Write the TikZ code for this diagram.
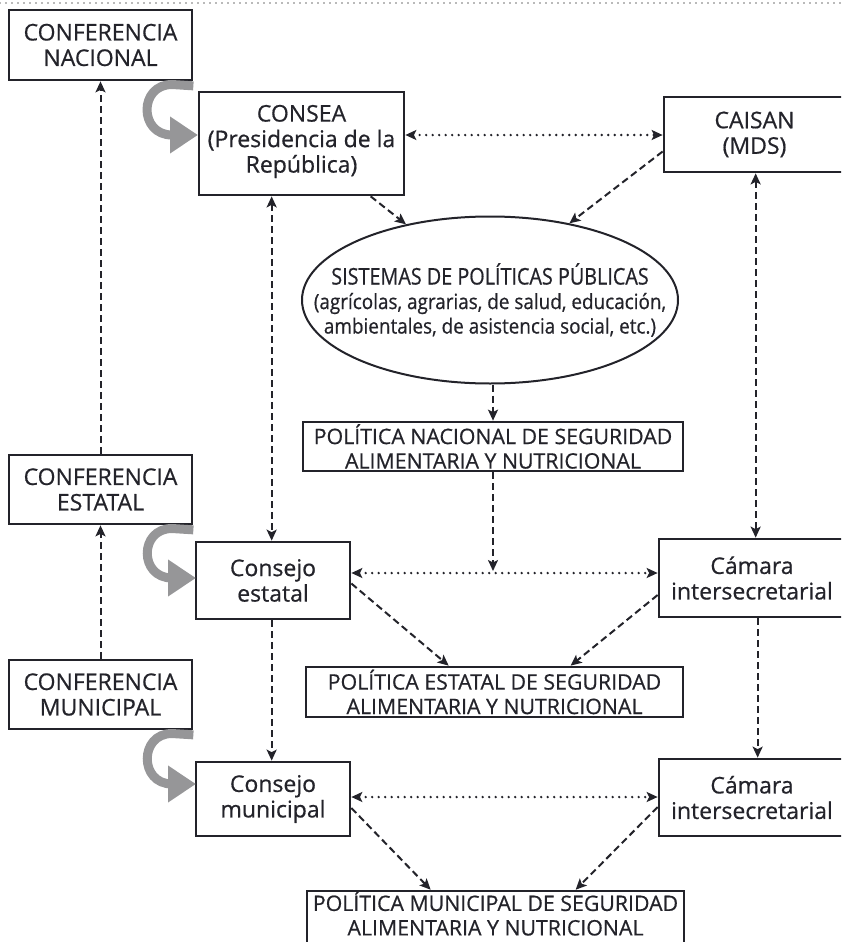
\documentclass[tikz,border=0pt]{standalone}
\usepackage{fontspec}
\setmainfont{Open Sans}
\usetikzlibrary{arrows.meta,shapes.geometric,calc}
\definecolor{ink}{RGB}{35,35,42}
\definecolor{greyarrow}{RGB}{150,150,152}
\newcommand{\boxfont}{\fontsize{23}{25.5}\selectfont\addfontfeatures{FakeBold=0.6}}
\newcommand{\polfont}{\fontsize{21.3}{24.5}\selectfont\addfontfeatures{FakeBold=0.6}}
\newcommand{\ovalfont}{\fontsize{21}{24.5}\selectfont\addfontfeatures{FakeBold=0.6,FakeStretch=0.9}}
\newcommand{\ovalhead}{\fontsize{23}{24.5}\selectfont\addfontfeatures{FakeBold=0.6,FakeStretch=0.86}}
\tikzset{
  box/.style={draw=ink, line width=2.7pt, rectangle, inner sep=0pt, align=center,
    text=ink, font=\boxfont},
  polbox/.style={box, font=\polfont},
  oval/.style={draw=ink, line width=2pt, ellipse, inner xsep=-90pt, inner ysep=-20pt, align=center,
    text=ink, font=\ovalfont},
  dsh/.style={draw=ink, line width=2pt, dash pattern=on 7pt off 4pt},
  dotline/.style={draw=ink, line width=2.6pt, dash pattern=on 0pt off 6.5pt, line cap=round},
  arr/.style={-{Stealth[length=11pt,width=10pt,inset=2.5pt]}},
  arrboth/.style={{Stealth[length=11pt,width=10pt,inset=2.5pt]}-{Stealth[length=11pt,width=10pt,inset=2.5pt]}},
  greyarr/.style={draw=greyarrow, line width=9pt, -{Triangle[length=28pt,width=35pt]}, fill=none},
  topdots/.style={draw=black!55, line width=1.8pt, dash pattern=on 0pt off 6pt, line cap=round}
}
\begin{document}
\begin{tikzpicture}[x=1pt,y=-1pt]
\useasboundingbox (0,0) rectangle (841,942);
\begin{scope}
\clip (0,0) rectangle (841,942);
% top dotted rule
\draw[topdots] (0,3) -- (841,3);

% nodes
\node[box, minimum width=183, minimum height=70] (cnac) at (100.5,45) {CONFERENCIA\\NACIONAL};
\node[box, minimum width=205, minimum height=103] (consea) at (301.5,143.5) {CONSEA\\(Presidencia de la\\República)\\[-16pt]\mbox{}};
\node[box, minimum width=181, minimum height=75] (caisan) at (754.5,134.5) {CAISAN\\(MDS)};
\node[oval, minimum width=376, minimum height=167] (sys) at (490,300)
  {{\ovalhead SISTEMAS DE POLÍTICAS PÚBLICAS}\\(agrícolas, agrarias, de salud, educación,\\ambientales, de asistencia social, etc.)};
\node[polbox, minimum width=380, minimum height=49] (polnac) at (493,446.5) {POLÍTICA NACIONAL DE SEGURIDAD\\ALIMENTARIA Y NUTRICIONAL};
\node[box, minimum width=183, minimum height=69] (cest) at (100.5,489.5) {CONFERENCIA\\ESTATAL};
\node[box, minimum width=154, minimum height=77] (cjest) at (273,580.5) {Consejo\\estatal};
\node[box, minimum width=186, minimum height=78] (camest) at (752,578) {Cámara\\intersecretarial};
\node[polbox, minimum width=377, minimum height=50] (polest) at (494.5,692) {POLÍTICA ESTATAL DE SEGURIDAD\\ALIMENTARIA Y NUTRICIONAL};
\node[box, minimum width=183, minimum height=69] (cmun) at (100.5,694.5) {CONFERENCIA\\MUNICIPAL};
\node[box, minimum width=154, minimum height=74] (cjmun) at (273,799) {Consejo\\municipal};
\node[box, minimum width=186, minimum height=77] (cammun) at (752,797.5) {Cámara\\intersecretarial};
\node[polbox, minimum width=377, minimum height=51] (polmun) at (495.5,917.5) {POLÍTICA MUNICIPAL DE SEGURIDAD\\ALIMENTARIA Y NUTRICIONAL\\[-16pt]\mbox{}};

% grey curved arrows
\draw[greyarr] (cnac.south east) ++(0,4.5) -- (172,84.5) .. controls (138.7,84.5) and (138.7,135) .. (172,135) -- (198,135);
\draw[greyarr] (cest.south east) ++(0,4.5) -- (172,528.5) .. controls (139,528.5) and (139,578) .. (172,578) -- (196,578);
\draw[greyarr] (cmun.south east) ++(0,4.5) -- (172,733.5) .. controls (139,733.5) and (139,784) .. (172,784) -- (196,784);

% conferences
\draw[dsh,arr] (cest.north) -- (cnac.south);
\draw[dsh,arr] (cmun.north) -- (cest.south);

% vertical left chain
\draw[dsh,arrboth] ([xshift=74pt]consea.south west) -- ([xshift=77pt]cjest.north west);
\draw[dsh,arr] ([xshift=77pt]cjest.south west) -- ([xshift=77pt]cjmun.north west);

% vertical right chain
\draw[dsh,arrboth] ([xshift=93pt]caisan.south west) -- ([xshift=98pt]camest.north west);
\draw[dsh,arr] ([xshift=100pt]camest.south west) -- ([xshift=100pt]cammun.north west);

% into the ellipse
\draw[dsh,arr] ([xshift=173pt]consea.south west) -- (sys.138);
\draw[dsh,arr] ([yshift=-17pt]caisan.west) -- (sys.44);
\draw[dsh,arr] (polnac.north |- sys.south) -- (polnac.north);

% horizontal dotted links
\draw[dotline,arrboth] ($(consea.east)+(0,-8.5)$) -- ($(caisan.west |- consea.east)+(0,-8.5)$);
\draw[dotline,arrboth] ($(cjest.east)+(0,-7.5)$) -- ($(camest.west |- cjest.east)+(0,-7.5)$);
\draw[dotline,arrboth] ($(cjmun.east)+(0,-2)$) -- ($(cammun.west |- cjmun.east)+(0,-2)$);

% national policy down to state dotted link
\draw[dsh,arr] (polnac.south) -- ($(polnac.south |- cjest.east)+(0,-9.5)$);

% into state / municipal policies
\draw[dsh,arr] ([yshift=-3pt]cjest.east) -- ([xshift=144pt]polest.north west);
\draw[dsh,arr] ([yshift=-17pt]camest.west) -- ([xshift=266pt]polest.north west);
\draw[dsh,arr] ([yshift=-9pt]cjmun.east) -- ([xshift=125pt]polmun.north west);
\draw[dsh,arr] ([yshift=-9.5pt]cammun.west) -- ([xshift=270pt]polmun.north west);
\end{scope}
\end{tikzpicture}
\end{document}
